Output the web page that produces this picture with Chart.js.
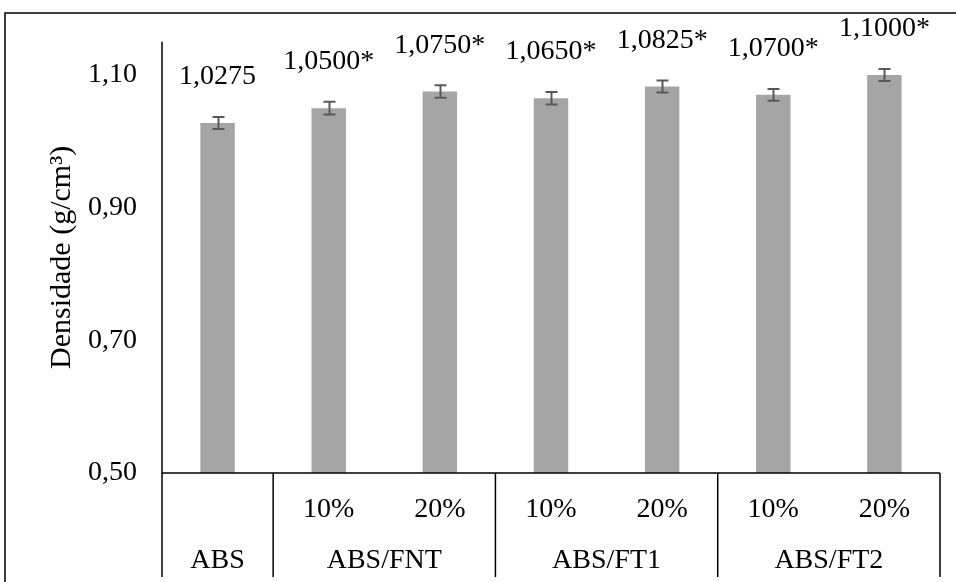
<!DOCTYPE html>
<html>
<head>
<meta charset="utf-8">
<script src="https://cdn.jsdelivr.net/npm/chart.js@4/dist/chart.umd.min.js"></script>
<style>
  html, body { margin: 0; padding: 0; background: #ffffff; }
  #wrap { width: 956px; height: 582px; }
</style>
</head>
<body>
<div id="wrap"><canvas id="c" width="956" height="582"></canvas></div>
<script>
// Density of ABS and its composites (g/cm³)
const subLabels = ['', '10%', '20%', '10%', '20%', '10%', '20%'];
const groupNames = ['ABS', 'ABS/FNT', 'ABS/FT1', 'ABS/FT2'];
const groupSizes = [1, 2, 2, 2];
const density = [1.0275, 1.0500, 1.0750, 1.0650, 1.0825, 1.0700, 1.1000];
const densityError = [0.0090, 0.0095, 0.0095, 0.0095, 0.0090, 0.0090, 0.0090];
const significance = ['', '*', '*', '*', '*', '*', '*'];
const yTicks = [0.50, 0.70, 0.90, 1.10];

const FONT = '"Liberation Serif", "Times New Roman", serif';
const fmt = (v, d) => v.toFixed(d).replace('.', ',');

// Frame, axis lines, error bars, value labels and the two-row category axis
const decorations = {
  id: 'decorations',
  afterDatasetsDraw(chart) {
    const ctx = chart.ctx;
    const area = chart.chartArea;
    const x = chart.scales.x;
    const y = chart.scales.y;
    const bottomEdge = 577;
    ctx.save();

    // error bars
    ctx.strokeStyle = '#595959';
    ctx.lineWidth = 2;
    density.forEach((v, i) => {
      const cx = Math.round(x.getPixelForValue(i)) + 0.5;
      const yHi = y.getPixelForValue(v + densityError[i]);
      const yLo = y.getPixelForValue(v - densityError[i]);
      ctx.beginPath();
      ctx.moveTo(cx, yHi); ctx.lineTo(cx, yLo);
      ctx.moveTo(cx - 6, yHi); ctx.lineTo(cx + 6, yHi);
      ctx.moveTo(cx - 6, yLo); ctx.lineTo(cx + 6, yLo);
      ctx.stroke();
    });

    // value labels
    ctx.fillStyle = '#000';
    ctx.font = '28px ' + FONT;
    ctx.textAlign = 'center';
    ctx.textBaseline = 'alphabetic';
    density.forEach((v, i) => {
      const cx = x.getPixelForValue(i);
      ctx.fillText(fmt(v, 4) + significance[i], cx, y.getPixelForValue(v) - 39);
    });

    // axis lines
    ctx.strokeStyle = '#000';
    ctx.lineWidth = 1.5;
    ctx.beginPath();
    ctx.moveTo(area.left, area.top);
    ctx.lineTo(area.left, bottomEdge);
    ctx.moveTo(area.left, area.bottom);
    ctx.lineTo(area.right, area.bottom);
    ctx.stroke();

    // category rows and group separators
    const half = (x.getPixelForValue(1) - x.getPixelForValue(0)) / 2;
    subLabels.forEach((s, i) => {
      if (s) ctx.fillText(s, x.getPixelForValue(i), 517);
    });
    let start = 0;
    groupNames.forEach((g, k) => {
      const end = start + groupSizes[k] - 1;
      const l = x.getPixelForValue(start) - half;
      const r = x.getPixelForValue(end) + half;
      ctx.fillText(g, (l + r) / 2, 568);
      ctx.beginPath();
      ctx.moveTo(r, area.bottom);
      ctx.lineTo(r, bottomEdge);
      ctx.stroke();
      start = end + 1;
    });

    // outer frame
    ctx.lineWidth = 1.5;
    ctx.strokeRect(5, 13, 1200, 1200);
    ctx.restore();
  }
};

new Chart(document.getElementById('c'), {
  type: 'bar',
  data: {
    labels: subLabels,
    datasets: [{
      data: density,
      backgroundColor: '#a5a5a5',
      borderWidth: 0,
      barPercentage: 0.31,
      categoryPercentage: 1.0
    }]
  },
  options: {
    responsive: false,
    animation: false,
    devicePixelRatio: 1,
    layout: { padding: { top: 40, right: 16, left: 0, bottom: 0 } },
    plugins: { legend: { display: false }, tooltip: { enabled: false } },
    scales: {
      x: {
        grid: { display: false, drawTicks: false },
        border: { display: false },
        ticks: { display: false },
        afterFit: s => { s.height = 109; }
      },
      y: {
        min: 0.5,
        max: 1.15,
        grid: { display: false, drawTicks: false },
        border: { display: false },
        afterBuildTicks: s => { s.ticks = yTicks.map(v => ({ value: v })); },
        ticks: {
          color: '#000',
          font: { family: FONT, size: 28 },
          padding: 25,
          callback: v => fmt(v, 2)
        },
        title: {
          display: true,
          text: 'Densidade (g/cm³)',
          color: '#000',
          font: { family: FONT, size: 30 },
          padding: { top: 44, bottom: 0 }
        },
        afterFit: s => { s.width = 162; }
      }
    }
  },
  plugins: [decorations]
});
</script>
</body>
</html>
